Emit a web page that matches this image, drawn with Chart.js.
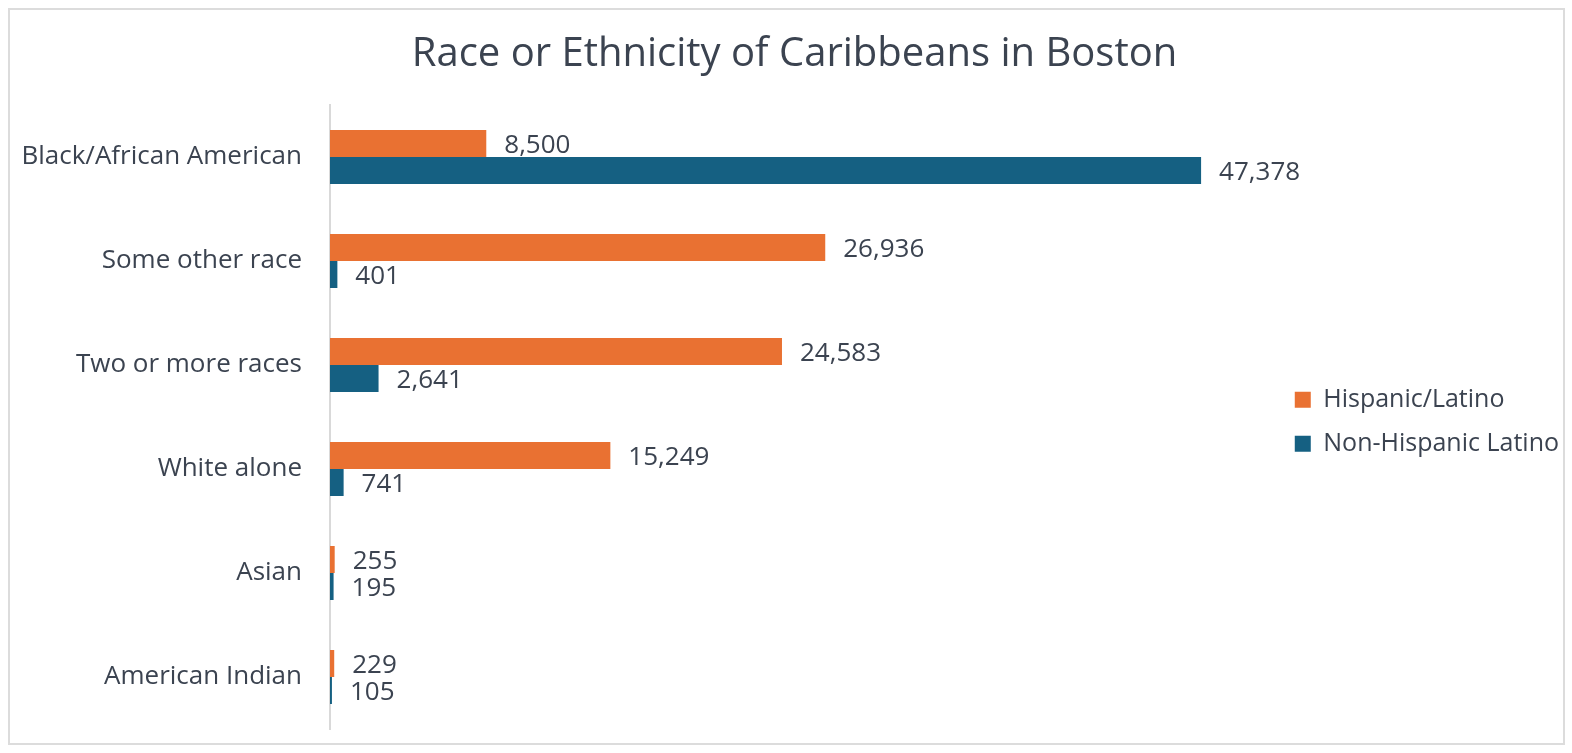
<!DOCTYPE html>
<html>
<head>
<meta charset="utf-8">
<script src="https://cdn.jsdelivr.net/npm/chart.js@4.4.1/dist/chart.umd.min.js"></script>
<style>
	html, body { margin: 0; padding: 0; background: #ffffff; }
	#wrap { position: relative; width: 1572px; height: 753px; }
	#frame { position: absolute; left: 8px; top: 8px; width: 1553px; height: 733px; border: 2px solid #dcdcdc; pointer-events: none; }
</style>
</head>
<body>
<div id="wrap">
	<canvas id="raceChart" width="1572" height="753"></canvas>
	<div id="frame"></div>
</div>
<script>
	// 카테고리와 시리즈 값
	const categories = ['Black/African American', 'Some other race', 'Two or more races', 'White alone', 'Asian', 'American Indian'];
	const hispanicValues = [8500, 26936, 24583, 15249, 255, 229];
	const nonHispanicValues = [47378, 401, 2641, 741, 195, 105];
	const seriesNames = ['Hispanic/Latino', 'Non-Hispanic Latino'];

	const textColor = '#3b4350';
	Chart.defaults.font.family = "'Open Sans', 'Noto Sans', sans-serif";
	Chart.defaults.color = textColor;

	// 막대 끝에 값 표시
	const valueLabels = {
		id: 'valueLabels',
		afterDatasetsDraw(chart) {
			const ctx = chart.ctx;
			ctx.save();
			ctx.font = "26px 'Open Sans'";
			ctx.fillStyle = textColor;
			ctx.textAlign = 'left';
			ctx.textBaseline = 'middle';
			chart.data.datasets.forEach((ds, i) => {
				chart.getDatasetMeta(i).data.forEach((bar, j) => {
					ctx.fillText(ds.data[j].toLocaleString('en-US'), bar.x + 18, bar.y + 2);
				});
			});
			ctx.restore();
		}
	};

	const ctx = document.getElementById('raceChart').getContext('2d');
	const raceChart = new Chart(ctx, {
		type: 'bar',
		data: {
			labels: categories,
			datasets: [
				{
					label: seriesNames[0],
					data: hispanicValues,
					backgroundColor: '#E97132',
					categoryPercentage: 0.52,
					barPercentage: 1.0
				},
				{
					label: seriesNames[1],
					data: nonHispanicValues,
					backgroundColor: '#156082',
					categoryPercentage: 0.52,
					barPercentage: 1.0
				}
			]
		},
		options: {
			indexAxis: 'y',
			responsive: false,
			animation: false,
			layout: { padding: { left: 20, right: 3, top: 0, bottom: 24 } },
			plugins: {
				title: {
					display: true,
					text: 'Race or Ethnicity of Caribbeans in Boston',
					color: textColor,
					font: { size: 40, weight: 'normal' },
					padding: { top: 31, bottom: 26 }
				},
				legend: {
					position: 'right',
					fullSize: false,
					title: {
						display: true,
						text: '',
						padding: 0,
						font: { size: 8, lineHeight: 1.2 }
					},
					labels: {
						boxWidth: 16,
						boxHeight: 16,
						padding: 19,
						color: textColor,
						font: { size: 25 }
					}
				},
				tooltip: { enabled: false }
			},
			scales: {
				x: {
					display: false,
					min: 0,
					max: 51440
				},
				y: {
					grid: {
						display: true,
						drawOnChartArea: false,
						drawTicks: true,
						tickLength: 28,
						color: 'rgba(0, 0, 0, 0)'
					},
					border: { display: true, color: '#d9d9d9', width: 2 },
					ticks: {
						padding: 0,
						color: textColor,
						font: { size: 26 }
					},
					afterFit(scale) {
						scale.width = 310; // 축 위치 고정
					}
				}
			}
		},
		plugins: [valueLabels]
	});
</script>
</body>
</html>
